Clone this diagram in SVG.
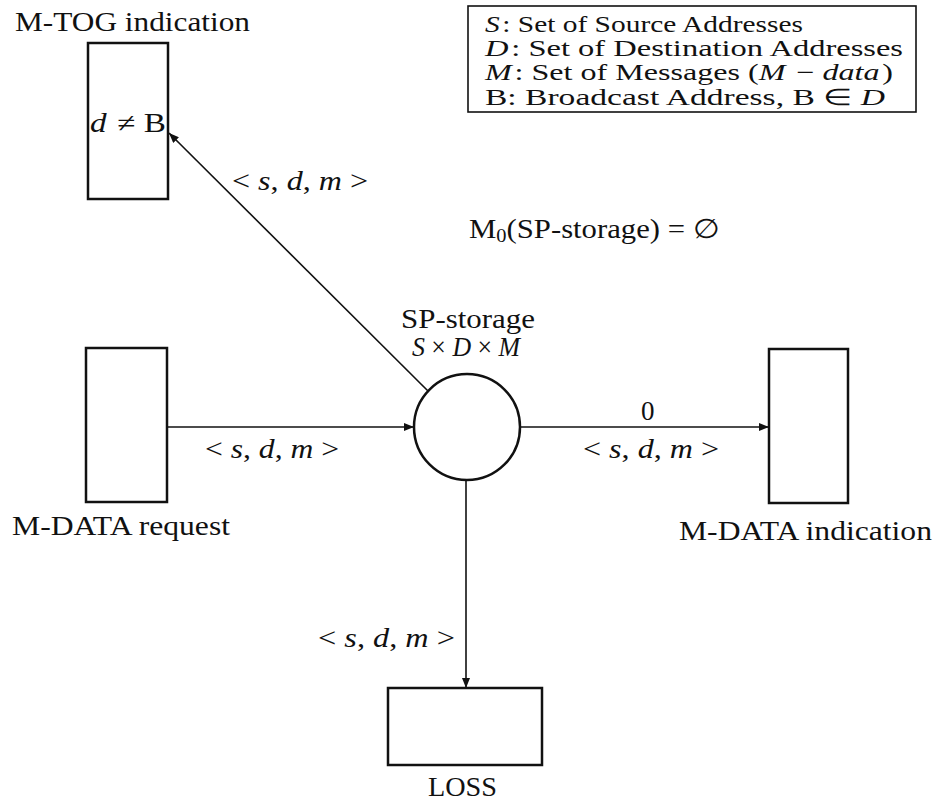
<svg xmlns="http://www.w3.org/2000/svg" width="934" height="807" viewBox="0 0 934 807">
<style>
text{font-family:"Liberation Serif","Times New Roman",serif;fill:#111;font-size:27px}
.lg{font-size:23px}
.i{font-style:italic}
.box{fill:#fff;stroke:#111;stroke-width:2.5}
.ln{stroke:#111;stroke-width:1.6;fill:none}
</style>
<defs>
<marker id="ah" viewBox="0 0 10 8" refX="10" refY="4" markerWidth="10" markerHeight="8" markerUnits="userSpaceOnUse" orient="auto">
<path d="M0,0 L10,4 L0,8 Z" fill="#111"/>
</marker>
</defs>
<rect width="934" height="807" fill="#fff"/>

<g id="legend">
<rect x="468" y="6" width="448" height="106" fill="none" stroke="#111" stroke-width="1.6"/>
<text class="lg" x="485" y="32" textLength="318" lengthAdjust="spacingAndGlyphs"><tspan class="i">S</tspan><tspan dx="2">: Set of Source Addresses</tspan></text>
<text class="lg" x="485" y="56" textLength="418" lengthAdjust="spacingAndGlyphs"><tspan class="i">D</tspan><tspan dx="2">: Set of Destination Addresses</tspan></text>
<text class="lg" x="485" y="80" textLength="408" lengthAdjust="spacingAndGlyphs"><tspan class="i">M</tspan><tspan dx="2">: Set of Messages (</tspan><tspan class="i">M</tspan><tspan dx="2"> − </tspan><tspan class="i">data</tspan><tspan dx="2">)</tspan></text>
<text class="lg" x="485" y="105" textLength="400" lengthAdjust="spacingAndGlyphs">B: Broadcast Address, B ∈ <tspan class="i">D</tspan></text>
</g>

<g id="marking">
<text x="469" y="238" textLength="251" lengthAdjust="spacingAndGlyphs">M<tspan font-size="18" dy="4">0</tspan><tspan dy="-4">(SP-storage) = ∅</tspan></text>
</g>

<g id="m-tog-indication">
<rect class="box" x="88" y="43" width="80" height="156"/>
<text x="15" y="31" textLength="235" lengthAdjust="spacingAndGlyphs">M-TOG indication</text>
<text x="90" y="132" textLength="76" lengthAdjust="spacingAndGlyphs"><tspan class="i">d</tspan><tspan dx="2"> ≠ B</tspan></text>
</g>

<g id="m-data-request">
<rect class="box" x="86" y="348" width="81" height="154"/>
<text x="12" y="535" textLength="218" lengthAdjust="spacingAndGlyphs">M-DATA request</text>
</g>

<g id="sp-storage">
<circle cx="467" cy="427" r="53" fill="#fff" stroke="#111" stroke-width="2.5"/>
<text x="401" y="328" textLength="134" lengthAdjust="spacingAndGlyphs">SP-storage</text>
<text x="412" y="356" font-size="19" textLength="108" lengthAdjust="spacingAndGlyphs"><tspan class="i">S</tspan> × <tspan class="i">D</tspan> × <tspan class="i">M</tspan></text>
</g>

<g id="m-data-indication">
<rect class="box" x="769" y="349" width="79" height="154"/>
<text x="679" y="540" textLength="253" lengthAdjust="spacingAndGlyphs">M-DATA indication</text>
</g>

<g id="loss">
<rect class="box" x="388" y="688" width="154" height="77"/>
<text x="428" y="796" textLength="69" lengthAdjust="spacingAndGlyphs">LOSS</text>
</g>

<g id="connectors">
<line class="ln" x1="428" y1="391" x2="169" y2="133" marker-end="url(#ah)"/>
<line class="ln" x1="167" y1="427" x2="414" y2="427" marker-end="url(#ah)"/>
<line class="ln" x1="520" y1="427" x2="769" y2="427" marker-end="url(#ah)"/>
<line class="ln" x1="466" y1="480" x2="466" y2="688" marker-end="url(#ah)"/>
<text x="232" y="190" textLength="136" lengthAdjust="spacingAndGlyphs">&lt; <tspan class="i">s</tspan>, <tspan class="i">d</tspan>, <tspan class="i">m</tspan> &gt;</text>
<text x="205" y="458" textLength="134" lengthAdjust="spacingAndGlyphs">&lt; <tspan class="i">s</tspan>, <tspan class="i">d</tspan>, <tspan class="i">m</tspan> &gt;</text>
<text x="641" y="420">0</text>
<text x="583" y="458" textLength="136" lengthAdjust="spacingAndGlyphs">&lt; <tspan class="i">s</tspan>, <tspan class="i">d</tspan>, <tspan class="i">m</tspan> &gt;</text>
<text x="318" y="647" textLength="137" lengthAdjust="spacingAndGlyphs">&lt; <tspan class="i">s</tspan>, <tspan class="i">d</tspan>, <tspan class="i">m</tspan> &gt;</text>
</g>
</svg>
